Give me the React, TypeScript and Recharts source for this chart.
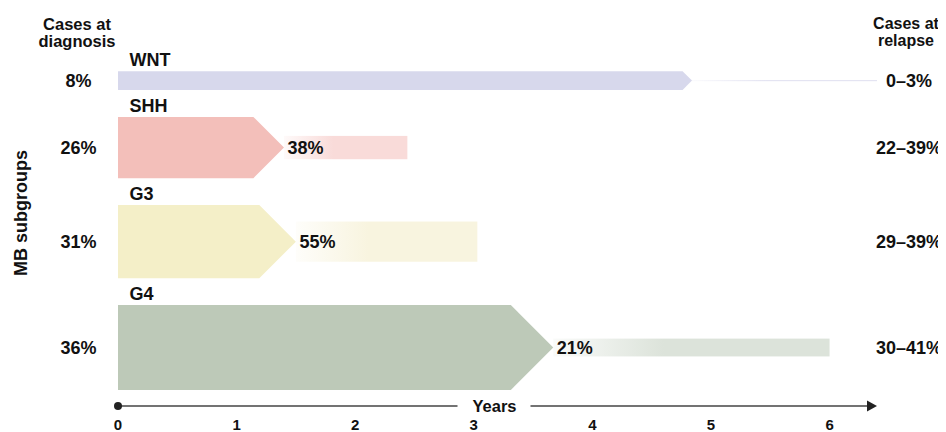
import React from "react";
import { ComposedChart, XAxis, YAxis, ReferenceArea, ReferenceLine } from "recharts";

// subgroups, top to bottom
const groups = ["WNT", "SHH", "G3", "G4"];
// share of all cases at diagnosis (also sets the band thickness)
const diagnosisPct = [8, 26, 31, 36];
const diagnosisLabels = ["8%", "26%", "31%", "36%"];
// years at which the diagnosis arrow ends (tip)
const arrowEnd = [4.84, 1.4, 1.5, 3.67];
// share of the subgroup that relapses (sets relapse band thickness)
const relapseShare = [1.5, 38, 55, 21];
const relapseShareLabels = ["", "38%", "55%", "21%"];
// years at which the relapse band ends
const relapseEnd = [6.4, 2.44, 3.03, 6.0];
const relapseLabels = ["0–3%", "22–39%", "29–39%", "30–41%"];
const yearTicks = [0, 1, 2, 3, 4, 5, 6];

const bodyColors = ["#d7d8ec", "#f3bfba", "#f4efc8", "#bdc9b8"];
const relapseColors = ["#e4e4f2", "#f9dbd9", "#f8f4df", "#dce3da"];

const FONT = "'Liberation Sans', Arial, Helvetica, sans-serif";
const INK = "#111";
const GAP = 11.4;
const RIGHT_COL = 901;

const rows = groups.map((name, i) => {
  const top = diagnosisPct.slice(0, i).reduce((s, v) => s + v + GAP, 0);
  const mid = top + diagnosisPct[i] / 2;
  const half = (diagnosisPct[i] * relapseShare[i]) / 200;
  return {
    name,
    top,
    bottom: top + diagnosisPct[i],
    relTop: mid - half,
    relBottom: mid + half,
    end: arrowEnd[i],
    relEnd: relapseEnd[i],
  };
});

const txt = { fontFamily: FONT, fontWeight: 700, fill: INK };

const bodyShape = (i: number) => (props: any) => {
  const { x, y, width, height } = props;
  const t = height / 2;
  const pts = `${x},${y} ${x + width - t},${y} ${x + width},${y + t} ${x + width - t},${y + height} ${x},${y + height}`;
  return (
    <g>
      <polygon points={pts} fill={bodyColors[i]} />
      <text x={x + 11.5} y={y - 5} fontSize={18} {...txt}>
        {groups[i]}
      </text>
      <text x={x - 39.5} y={y + t} dy="0.36em" textAnchor="middle" fontSize={18} {...txt}>
        {diagnosisLabels[i]}
      </text>
    </g>
  );
};

const relapseShape = (i: number) => (props: any) => {
  const { x, y, width, height } = props;
  const h = Math.max(height, 1.2);
  const cy = y + height / 2;
  const id = `relapse-grad-${i}`;
  return (
    <g>
      <defs>
        <linearGradient id={id} x1="0" x2="1" y1="0" y2="0">
          <stop offset="0" stopColor={relapseColors[i]} stopOpacity={0.15} />
          <stop offset="0.4" stopColor={relapseColors[i]} stopOpacity={1} />
        </linearGradient>
      </defs>
      <rect x={x} y={cy - h / 2} width={width} height={h} fill={`url(#${id})`} />
      {relapseShareLabels[i] && (
        <text x={x + 3.5} y={cy} dy="0.36em" fontSize={18} {...txt}>
          {relapseShareLabels[i]}
        </text>
      )}
      <text x={RIGHT_COL} y={cy} dy="0.36em" textAnchor="middle" fontSize={18} {...txt}>
        {relapseLabels[i]}
      </text>
    </g>
  );
};

const axisArrow = (props: any) => {
  const { x1, y1, x2 } = props;
  const mid = (x1 + x2) / 2;
  return (
    <g>
      <line x1={x1} y1={y1} x2={mid - 40} y2={y1} stroke="#444" strokeWidth={1.5} />
      <line x1={mid + 33} y1={y1} x2={x2 - 9} y2={y1} stroke="#444" strokeWidth={1.5} />
      <polygon points={`${x2 - 10},${y1 - 5.5} ${x2},${y1} ${x2 - 10},${y1 + 5.5}`} fill="#222" />
      <circle cx={x1} cy={y1} r={4} fill="#222" />
      <text x={mid - 3} y={y1} dy="0.36em" textAnchor="middle" fontSize={16.5} {...txt}>
        Years
      </text>
    </g>
  );
};

export default function App() {
  return (
    <ComposedChart
      width={938}
      height={424}
      data={rows}
      margin={{ top: 16, right: 69, bottom: 0, left: 110 }}
    >
      <XAxis
        type="number"
        dataKey="end"
        domain={[0, 6.4]}
        ticks={yearTicks}
        allowDataOverflow
        axisLine={false}
        tickLine={false}
        tickSize={0}
        tickMargin={13}
        height={26}
        tick={{ fill: INK, fontSize: 15, fontWeight: 700, fontFamily: FONT }}
      />
      <YAxis type="number" domain={[-20, 142]} reversed hide allowDataOverflow />
      {rows.map((r, i) => (
        <ReferenceArea
          key={`body-${r.name}`}
          x1={0}
          x2={r.end}
          y1={r.top}
          y2={r.bottom}
          ifOverflow="visible"
          shape={bodyShape(i)}
        />
      ))}
      {rows.map((r, i) => (
        <ReferenceArea
          key={`rel-${r.name}`}
          x1={r.end}
          x2={r.relEnd}
          y1={r.relTop}
          y2={r.relBottom}
          ifOverflow="visible"
          shape={relapseShape(i)}
        />
      ))}
      <ReferenceLine y={142} ifOverflow="visible" shape={axisArrow} />
      <text x={69} y={22} textAnchor="middle" fontSize={16.5} {...txt}>
        Cases at
      </text>
      <text x={69} y={39} textAnchor="middle" fontSize={16.5} {...txt}>
        diagnosis
      </text>
      <text x={898} y={21} textAnchor="middle" fontSize={16} {...txt}>
        Cases at
      </text>
      <text x={898} y={38} textAnchor="middle" fontSize={16} {...txt}>
        relapse
      </text>
      <text
        x={13}
        y={205}
        dy="0.36em"
        textAnchor="middle"
        transform="rotate(-90 13 205)"
        fontSize={18}
        {...txt}
      >
        MB subgroups
      </text>
    </ComposedChart>
  );
}
